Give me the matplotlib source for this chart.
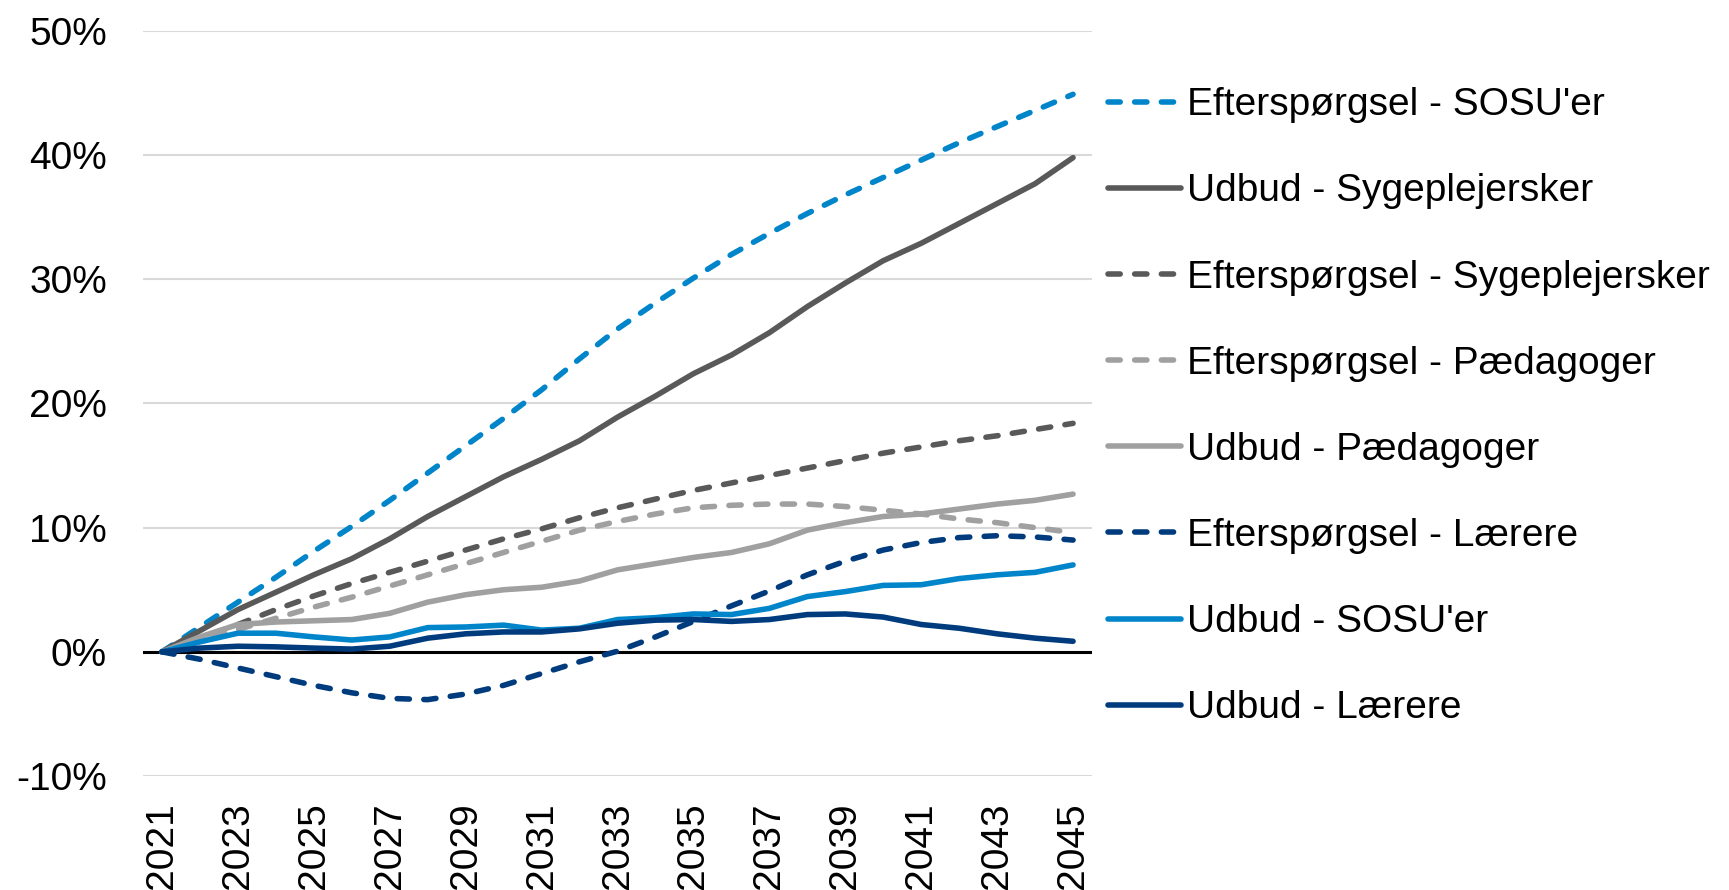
import matplotlib.pyplot as plt

plt.rcParams['font.family'] = ['Liberation Sans', 'DejaVu Sans']

years = list(range(2021, 2046))

# Procentvis ændring siden 2021
eft_sosu = [0, 2.0, 4.0, 6.0, 8.1, 10.1, 12.2, 14.4, 16.6, 18.8, 21.1, 23.6, 26.0,
            28.1, 30.1, 32.0, 33.7, 35.3, 36.8, 38.2, 39.6, 41.0, 42.3, 43.6, 44.9]
udb_syg = [0, 1.7, 3.4, 4.8, 6.2, 7.5, 9.1, 10.9, 12.5, 14.1, 15.5, 17.0, 18.9,
           20.6, 22.4, 23.9, 25.7, 27.8, 29.7, 31.5, 32.9, 34.5, 36.1, 37.7, 39.8]
eft_syg = [0, 1.1, 2.2, 3.4, 4.5, 5.5, 6.4, 7.3, 8.2, 9.1, 9.9, 10.8, 11.6,
           12.3, 13.0, 13.6, 14.2, 14.8, 15.4, 16.0, 16.5, 17.0, 17.4, 17.9, 18.4]
eft_paed = [0, 0.9, 1.8, 2.7, 3.6, 4.4, 5.3, 6.2, 7.1, 8.0, 8.9, 9.8, 10.5,
            11.1, 11.6, 11.8, 11.9, 11.9, 11.7, 11.4, 11.1, 10.7, 10.4, 10.0, 9.6]
udb_paed = [0, 1.2, 2.2, 2.4, 2.5, 2.6, 3.1, 4.0, 4.6, 5.0, 5.2, 5.7, 6.6,
            7.1, 7.6, 8.0, 8.7, 9.8, 10.4, 10.9, 11.1, 11.5, 11.9, 12.2, 12.7]
eft_laer = [0, -0.6, -1.3, -2.0, -2.7, -3.3, -3.75, -3.85, -3.4, -2.7, -1.75, -0.8, 0.05,
            1.2, 2.45, 3.7, 4.9, 6.2, 7.3, 8.2, 8.8, 9.2, 9.35, 9.25, 9.0]
udb_sosu = [0, 0.8, 1.5, 1.5, 1.2, 0.95, 1.2, 1.95, 2.0, 2.15, 1.75, 1.9, 2.6,
            2.75, 3.05, 3.0, 3.5, 4.45, 4.85, 5.35, 5.4, 5.9, 6.2, 6.4, 7.0]
udb_laer = [0, 0.3, 0.45, 0.4, 0.3, 0.22, 0.45, 1.1, 1.45, 1.6, 1.6, 1.85, 2.3,
            2.55, 2.6, 2.45, 2.6, 3.0, 3.05, 2.8, 2.2, 1.9, 1.45, 1.1, 0.85]

labels = ["Efterspørgsel - SOSU'er", "Udbud - Sygeplejersker",
          "Efterspørgsel - Sygeplejersker", "Efterspørgsel - Pædagoger",
          "Udbud - Pædagoger", "Efterspørgsel - Lærere",
          "Udbud - SOSU'er", "Udbud - Lærere"]
series = [eft_sosu, udb_syg, eft_syg, eft_paed, udb_paed, eft_laer, udb_sosu, udb_laer]

lyseblaa = '#0085CA'
moerkeblaa = '#003C7D'
moerkegraa = '#595959'
lysegraa = '#A0A0A0'
colors = [lyseblaa, moerkegraa, moerkegraa, lysegraa, lysegraa, moerkeblaa, lyseblaa, moerkeblaa]
dashed = [True, False, True, True, False, True, False, False]

fig = plt.figure(figsize=(17.29, 8.9), dpi=100)
ax = fig.add_axes([0.0827, 0.1281, 0.5489, 0.8371])

handles = []
for vals, c, d in zip(series, colors, dashed):
    if d:
        ln, = ax.plot(years, vals, color=c, lw=4, dashes=(2.2, 2.6),
                      dash_capstyle='round', zorder=3)
    else:
        ln, = ax.plot(years, vals, color=c, lw=4, solid_capstyle='round', zorder=3)
    handles.append(ln)

ax.axhline(0, color='black', lw=2.2, zorder=2)

ax.set_xlim(2020.5, 2045.5)
ax.set_ylim(-10, 50)
ax.set_yticks(range(-10, 60, 10))
ax.set_yticklabels([f'{v}%' for v in range(-10, 60, 10)])
ax.set_xticks(years[::2])
ax.set_xticklabels([str(y) for y in years[::2]], rotation=90)
ax.tick_params(axis='y', length=0, pad=26, labelsize=28)
ax.tick_params(axis='x', length=0, pad=19, labelsize=28)
ax.grid(axis='y', color='#D9D9D9', lw=1.5, zorder=1)
ax.set_axisbelow(True)
for s in ax.spines.values():
    s.set_visible(False)

ax.legend(handles, labels, loc='upper left', bbox_to_anchor=(0.641, 0.902),
          bbox_transform=fig.transFigure, frameon=False, fontsize=28,
          handlelength=1.88, handletextpad=0.15, labelspacing=1.29,
          borderpad=0, borderaxespad=0)

fig.savefig('out.png', dpi=100)
